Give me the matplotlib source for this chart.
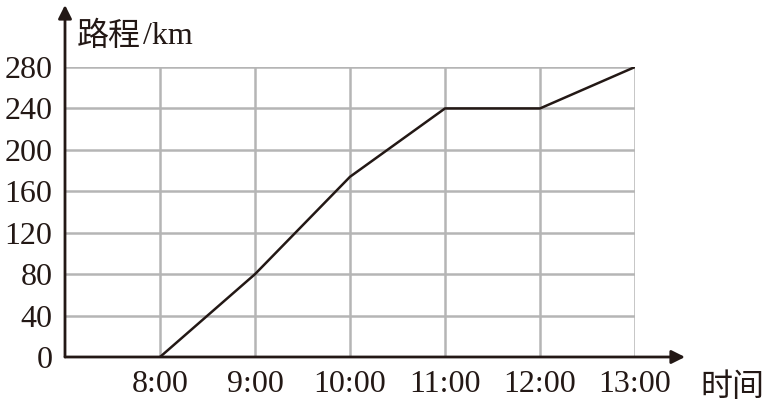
import matplotlib.pyplot as plt

hours = [8, 9, 10, 11, 12, 13]
distance = [0, 80, 174, 240, 240, 280]
xticks = [8, 9, 10, 11, 12, 13]
xlabels = ['8:00', '9:00', '10:00', '11:00', '12:00', '13:00']
yticks = [0, 40, 80, 120, 160, 200, 240, 280]

serif = 'Liberation Serif'
cjk = ['Noto Sans CJK SC', 'DejaVu Sans']

fig = plt.figure(figsize=(7.66, 4.07), dpi=100)
ax = fig.add_axes([65/766, 1 - 357/407, 570/766, 290/407])

ax.plot(hours, distance, color='#231815', lw=1.8, zorder=3)

ax.set_xlim(7, 13)
ax.set_ylim(0, 280)
ax.set_xticks(xticks)
ax.set_xticklabels(xlabels, fontfamily=serif, fontsize=23)
ax.set_yticks(yticks)
ax.set_yticklabels([str(v) for v in yticks], fontfamily=serif, fontsize=23)
ax.tick_params(length=0, pad=9, colors='#231815')
ax.tick_params(axis='y', pad=9)
ax.grid(True, color='#b5b5b5', lw=1.8)
for s in ax.spines.values():
    s.set_visible(False)

# axes with arrows
ax.annotate('', xy=(1 + 50/570, 0), xytext=(0, 0), xycoords='axes fraction',
            arrowprops=dict(arrowstyle='-|>', color='#231815', lw=2,
                            mutation_scale=20, shrinkA=0, shrinkB=0), zorder=4)
ax.annotate('', xy=(0, 1 + 62/290), xytext=(0, 0), xycoords='axes fraction',
            arrowprops=dict(arrowstyle='-|>', color='#231815', lw=2,
                            mutation_scale=20, shrinkA=0, shrinkB=0), zorder=4)

fig.text(77/766, 1 - 36/407, '路程', family=cjk, fontsize=23, va='center',
         color='#231815', weight='light')
fig.text(143/766, 1 - 36/407, '/km', family=serif, fontsize=23, va='center',
         color='#231815')
fig.text(700/766, 1 - 387/407, '时间', family=cjk, fontsize=23, va='center',
         color='#231815', weight='light')

fig.savefig('out.png', dpi=100)
